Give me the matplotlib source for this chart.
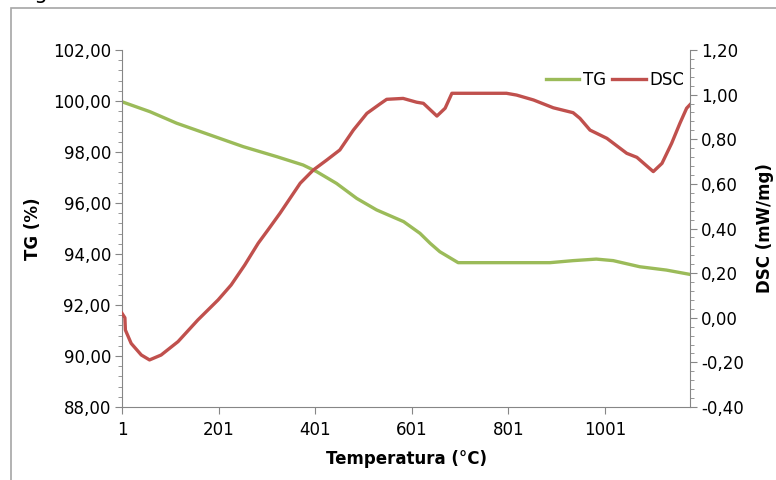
import matplotlib.pyplot as plt
import numpy as np
from matplotlib.ticker import FuncFormatter, MultipleLocator
from matplotlib.patches import Rectangle

plt.rcParams['font.family'] = ['DejaVu Sans']

# TG curve (left axis, %)
tg_temp = [1, 59, 114, 183, 252, 321, 376, 404, 445, 487, 528, 584, 618, 639,
           659, 697, 783, 887, 935, 983, 1018, 1073, 1128, 1177]
tg_vals = [99.97, 99.58, 99.13, 98.67, 98.21, 97.82, 97.49, 97.23, 96.77, 96.18,
           95.73, 95.27, 94.81, 94.42, 94.09, 93.66, 93.66, 93.66, 93.74, 93.80,
           93.74, 93.50, 93.37, 93.20]

# DSC curve (right axis, mW/mg)
dsc_temp = [1, 7, 8, 20, 41, 58, 82, 117, 158, 200, 227, 255, 283, 303, 328, 370,
            397, 425, 452, 480, 508, 535, 549, 583, 611, 625, 653, 670, 684, 742,
            797, 818, 853, 894, 935, 949, 970, 1005, 1046, 1067, 1101, 1119, 1139,
            1156, 1170, 1177]
dsc_vals = [0.02, 0.0, -0.055, -0.115, -0.167, -0.189, -0.167, -0.107, -0.010,
            0.08, 0.147, 0.236, 0.334, 0.393, 0.468, 0.603, 0.662, 0.707, 0.752,
            0.841, 0.916, 0.958, 0.979, 0.983, 0.966, 0.961, 0.904, 0.939, 1.006,
            1.006, 1.006, 0.998, 0.976, 0.941, 0.919, 0.894, 0.841, 0.804, 0.737,
            0.719, 0.655, 0.692, 0.782, 0.871, 0.939, 0.955]

x_ticks = [1, 201, 401, 601, 801, 1001]

green = '#9BBB59'
red = '#C0504D'
axis_grey = '#868686'

fig = plt.figure(figsize=(7.76, 4.8), dpi=100)
ax = fig.add_axes([122/776, 1-407/480, (690-122)/776, (407-50)/480])
ax2 = ax.twinx()

l1, = ax.plot(tg_temp, tg_vals, color=green, lw=2.4, label='TG')
l2, = ax2.plot(dsc_temp, dsc_vals, color=red, lw=2.4, label='DSC')

ax.set_xlim(1, 1177)
ax.set_ylim(88, 102)
ax2.set_ylim(-0.4, 1.2)
ax.set_xticks(x_ticks)
ax.yaxis.set_major_locator(MultipleLocator(2))
ax.yaxis.set_minor_locator(MultipleLocator(0.4))
ax2.yaxis.set_major_locator(MultipleLocator(0.2))
ax2.yaxis.set_minor_locator(MultipleLocator(0.04))

comma = lambda v, p: f'{v:.2f}'.replace('.', ',').replace('-0,00', '0,00')
ax.yaxis.set_major_formatter(FuncFormatter(comma))
ax2.yaxis.set_major_formatter(FuncFormatter(comma))

for a in (ax, ax2):
    a.spines['top'].set_visible(False)
    for s in ('left', 'right', 'bottom'):
        a.spines[s].set_color(axis_grey)
    a.tick_params(which='major', length=5, color=axis_grey, labelsize=12, pad=3)
    a.tick_params(which='minor', length=3, color=axis_grey)
ax.tick_params(axis='x', pad=5)
ax.spines['right'].set_visible(False)
ax2.spines['left'].set_visible(False)
ax2.spines['bottom'].set_visible(False)

ax.set_xlabel('Temperatura (°C)', fontsize=12, fontweight='bold', labelpad=8)
ax.set_ylabel('TG (%)', fontsize=12, fontweight='bold', labelpad=8)
ax2.set_ylabel('DSC (mW/mg)', fontsize=12, fontweight='bold', labelpad=9)

ax2.legend(handles=[l1, l2], loc='upper right', bbox_to_anchor=(1.01, 0.975),
           ncol=2, frameon=False, fontsize=12, handlelength=2.0,
           handletextpad=0.2, columnspacing=0.4, borderpad=0.2)

# chart frame and clipped caption above it
fig.patches.append(Rectangle((11/776, -0.1), 1.2, 1.1 - 8/480, transform=fig.transFigure,
                             fill=False, edgecolor='#A6A6A6', lw=1.2))
fig.text(18/776, 1 + 1/480, 'Figura 3 – Análises térmicas da amostra calcinada',
         fontsize=15, va='baseline', ha='left')

fig.savefig('out.png', dpi=100)
